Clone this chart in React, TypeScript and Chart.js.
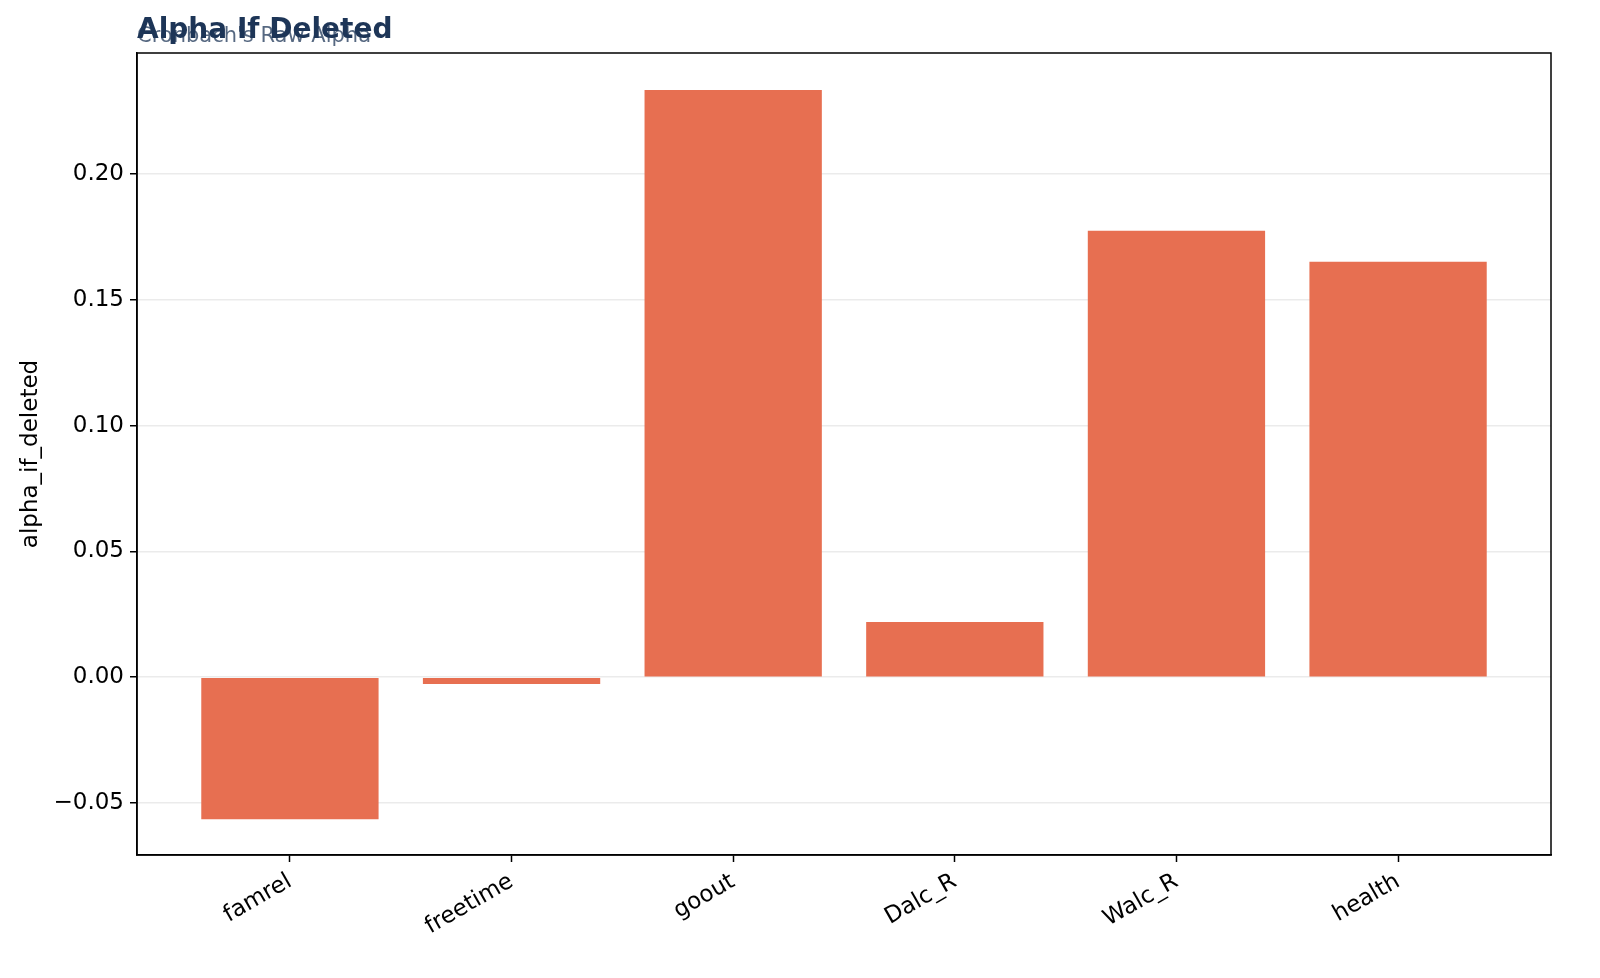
import React, { useEffect, useRef } from "react";
import { Chart, registerables } from "chart.js";

Chart.register(...registerables);

const categories = ["famrel", "freetime", "goout", "Dalc_R", "Walc_R", "health"];
const alphaIfDeleted = [-0.0565, -0.0027, 0.2334, 0.0219, 0.1774, 0.1651];
const yTicks = [-0.05, 0.0, 0.05, 0.1, 0.15, 0.2];
const titleText = "Alpha If Deleted";
const subtitleText = "Cronbach's Raw Alpha";
const yLabel = "alpha_if_deleted";

const FONT = "'DejaVu Sans', sans-serif";

const decorPlugin = {
  id: "decor",
  afterDraw(chart: any) {
    const { ctx, chartArea } = chart;
    const { left, top, right, bottom } = chartArea;
    ctx.save();
    ctx.strokeStyle = "#000";
    ctx.lineWidth = 1.5;
    ctx.strokeRect(left, top, right - left, bottom - top);
    ctx.textAlign = "left";
    ctx.textBaseline = "alphabetic";
    ctx.fillStyle = "rgba(29,53,87,0.75)";
    ctx.font = `21px ${FONT}`;
    ctx.fillText(subtitleText, left, 42);
    ctx.fillStyle = "#1d3557";
    ctx.font = `bold 28px ${FONT}`;
    ctx.fillText(titleText, left, 38);
    ctx.translate(37, (top + bottom) / 2);
    ctx.rotate(-Math.PI / 2);
    ctx.textAlign = "center";
    ctx.textBaseline = "alphabetic";
    ctx.fillStyle = "#000";
    ctx.font = `23px ${FONT}`;
    ctx.fillText(yLabel, 0, 0);
    ctx.restore();
  },
};

export default function App() {
  const ref = useRef<HTMLCanvasElement | null>(null);
  useEffect(() => {
    if (!ref.current) return;
    const chart = new Chart(ref.current, {
      type: "bar",
      data: {
        datasets: [
          {
            data: alphaIfDeleted.map((v, i) => ({ x: i, y: v })),
            backgroundColor: "#e76f51",
            borderWidth: 0,
            categoryPercentage: 1,
            barPercentage: 0.8,
          } as any,
        ],
      },
      options: {
        animation: false,
        responsive: false,
        maintainAspectRatio: false,
        devicePixelRatio: 1,
        layout: { padding: { left: 0, top: 53, right: 49, bottom: 0 } },
        plugins: {
          legend: { display: false },
          tooltip: { enabled: false },
          title: { display: false },
        },
        scales: {
          x: {
            type: "linear",
            offset: false,
            min: -0.69,
            max: 5.69,
            afterBuildTicks: (scale: any) => {
              scale.ticks = categories.map((_, i) => ({ value: i }));
            },
            afterFit: (scale: any) => {
              scale.height = 123;
            },
            grid: {
              offset: false,
              drawOnChartArea: false,
              drawTicks: true,
              tickLength: 7,
              tickWidth: 1.5,
              tickColor: "#000",
              color: "#000",
            },
            border: { display: true, color: "#000", width: 1.5 },
            ticks: {
              autoSkip: false,
              minRotation: 30,
              maxRotation: 30,
              padding: 6,
              color: "#000",
              font: { family: FONT, size: 23 },
              callback: (v: any) => categories[Math.round(Number(v))] ?? "",
            },
          },
          y: {
            type: "linear",
            min: -0.0707,
            max: 0.2481,
            afterBuildTicks: (scale: any) => {
              scale.ticks = yTicks.map((v) => ({ value: v }));
            },
            afterFit: (scale: any) => {
              scale.width = 137;
            },
            grid: {
              drawOnChartArea: true,
              color: "#ebebeb",
              lineWidth: 1.5,
              tickLength: 7,
              tickWidth: 1.5,
              tickColor: "#000",
            },
            border: { display: true, color: "#000", width: 1.5 },
            ticks: {
              padding: 6,
              color: "#000",
              font: { family: FONT, size: 23 },
              callback: (v: any) => {
                const n = Number(v);
                const s = Math.abs(n).toFixed(2);
                return n < -1e-9 ? "\u2212" + s : s;
              },
            },
          },
        },
      } as any,
      plugins: [decorPlugin],
    });
    return () => chart.destroy();
  }, []);
  return (
    <div style={{ position: "absolute", left: 0, top: 0, width: 1600, height: 978, background: "#fff" }}>
      <canvas ref={ref} width={1600} height={978} style={{ width: 1600, height: 978 }} />
    </div>
  );
}
